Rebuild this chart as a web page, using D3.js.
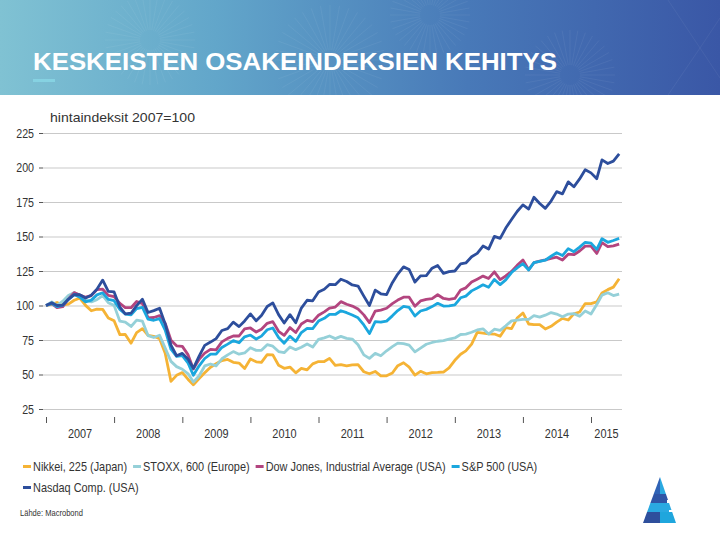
<!DOCTYPE html>
<html>
<head>
<meta charset="utf-8">
<script src="https://cdn.jsdelivr.net/npm/d3@7"></script>
<style>
  body { margin: 0; background: #fff; }
  svg { display: block; }
</style>
</head>
<body>
<script>
// ---------------- DATA (index, 2007 = 100, month-end values) ----------------
const seriesNames = ["Nikkei, 225 (Japan)", "STOXX, 600 (Europe)", "Dow Jones, Industrial Average (USA)", "S&P 500 (USA)", "Nasdaq Comp. (USA)"];
const yTicks = [25, 50, 75, 100, 125, 150, 175, 200, 225];
const yearLabels = ["2007", "2008", "2009", "2010", "2011", "2012", "2013", "2014", "2015"];

const nikkei = [100,
  100.9,102.2,100.4,101.0,103.8,105.3,100.1,96.2,97.4,97.2,91.0,88.9,
  78.9,79.0,72.7,80.4,83.2,78.3,77.7,75.9,65.4,45.0,49.4,51.4,
  46.4,42.5,47.1,51.2,55.3,57.8,60.1,60.9,58.8,58.3,54.3,61.2,
  59.2,58.8,64.4,64.2,56.7,54.5,55.4,51.2,54.4,53.4,57.7,59.4,
  59.4,61.7,56.6,57.2,56.3,57.0,57.1,52.0,50.5,52.2,49.0,49.1,
  51.1,56.4,58.5,55.3,49.6,52.3,50.5,51.3,51.5,51.8,54.8,60.3,
  64.7,67.1,72.0,80.5,80.0,79.4,79.3,77.7,83.9,83.2,90.9,94.6,
  86.6,86.2,86.1,83.0,84.9,88.0,90.7,89.5,93.9,95.3,101.4,101.3,
  102.6,109.1,111.5,113.3,119.4];

const stoxx = [100,
  102.6,100.1,103.1,107.2,109.4,107.2,104.0,102.6,104.2,107.2,102.0,100.1,
  88.6,88.0,84.8,89.4,88.6,78.2,76.8,78.4,69.1,59.5,55.7,53.8,
  50.5,44.5,49.1,56.2,57.6,56.2,61.4,64.2,66.6,64.7,65.6,69.4,
  67.5,67.5,71.6,70.5,66.6,65.8,69.9,68.0,69.7,72.1,69.9,75.4,
  76.5,77.9,76.0,77.6,76.2,75.7,71.6,64.2,61.7,65.3,63.6,67.2,
  70.2,72.7,72.4,71.3,66.4,69.1,71.9,73.2,74.1,74.6,75.7,76.5,
  79.0,79.3,80.6,82.3,83.1,79.3,82.8,82.0,85.3,88.9,89.4,90.0,
  90.0,92.7,91.6,93.0,94.9,93.8,91.9,93.8,94.1,92.2,96.0,93.8,
  100.7,107.5,109.2,107.2,108.3];

const dow = [100,
  101.3,98.4,99.1,104.8,109.3,107.6,106.0,107.2,111.5,111.8,107.3,106.4,
  101.5,98.4,98.4,102.9,101.4,91.1,91.3,92.6,87.1,74.8,70.8,70.4,
  64.2,54.0,61.1,65.5,68.2,67.8,73.6,76.2,77.9,77.9,83.0,83.7,
  80.8,82.8,87.1,88.3,81.3,78.4,84.0,80.4,86.6,89.2,88.3,92.9,
  95.4,98.1,98.9,102.8,100.9,99.6,97.4,93.2,87.6,95.9,96.7,98.0,
  101.4,103.9,106.0,106.0,99.4,103.3,104.4,105.0,107.8,105.1,104.5,105.1,
  111.2,112.8,117.0,119.1,121.3,119.6,124.4,118.8,121.4,124.7,129.1,133.0,
  126.0,131.0,132.1,133.0,134.1,135.0,132.9,137.2,136.8,139.5,143.0,143.0,
  137.7,145.5,142.6,143.2,144.5];

const sp500 = [100,
  101.4,99.2,100.2,104.5,107.9,106.0,102.6,103.9,107.7,109.2,104.4,103.5,
  97.2,93.8,93.3,97.7,98.7,90.2,89.3,90.5,82.2,68.3,63.2,63.7,
  58.2,49.5,56.3,61.6,64.8,64.8,69.6,72.0,74.5,73.0,77.3,78.6,
  75.7,77.8,82.4,83.7,76.8,72.7,77.7,74.0,80.4,83.4,83.3,88.7,
  90.7,93.6,93.5,96.2,94.8,93.1,91.1,85.9,79.7,88.3,87.9,88.7,
  92.5,96.3,99.3,98.6,92.4,96.0,97.2,99.2,101.6,99.6,99.8,100.5,
  105.6,106.8,110.6,112.7,115.0,113.2,118.9,115.1,118.6,123.9,127.3,130.3,
  125.7,131.1,132.0,132.8,135.7,138.2,136.2,141.2,139.0,142.3,145.8,145.2,
  140.7,148.4,145.8,147.1,148.6];

const nasdaq = [100,
  102.0,100.0,100.3,104.5,107.9,107.8,105.4,107.5,111.8,118.4,110.2,109.8,
  98.9,94.0,94.4,99.9,104.5,94.9,96.3,98.0,86.6,71.3,63.6,65.3,
  61.1,54.5,63.3,71.1,73.5,76.0,81.9,83.2,87.9,84.7,88.8,93.9,
  88.9,92.7,99.3,101.9,93.4,87.3,93.4,87.5,98.1,103.8,103.4,109.8,
  111.8,115.2,115.1,119.0,117.4,114.9,114.1,106.8,100.0,111.1,108.5,107.9,
  116.5,122.8,128.0,126.1,117.0,121.5,121.7,127.0,129.0,123.3,124.6,125.0,
  130.1,130.8,135.3,137.8,143.1,140.9,150.1,148.6,156.1,162.3,168.1,172.9,
  169.9,178.4,173.9,170.4,175.7,182.5,180.9,189.6,186.0,191.7,198.4,196.1,
  191.9,205.5,202.9,204.6,209.9];

// one date per value: start of each month, Jan 2007 .. Jun 2015
const months = d3.timeMonth.range(new Date(2007, 0, 1), new Date(2015, 6, 1));

const colors = ["#f5b335", "#95d0d8", "#b3457f", "#1ba7de", "#2d4e9c"];
const allSeries = [nikkei, stoxx, dow, sp500, nasdaq];

// ---------------- DRAWING ----------------
const W = 720, H = 540;
const FONT = "'Liberation Sans',Arial,sans-serif";
const svg = d3.select("body").append("svg").attr("width", W).attr("height", H)
  .style("font-family", FONT);

// text squeezed horizontally (narrow typeface look) via a scaled group
function narrowText(parent, tx, ty, str, size, f, anchor) {
  const g = parent.append("g").attr("transform", `translate(${tx},${ty}) scale(${f},1)`);
  const t = g.append("text").attr("x", 0).attr("y", 0)
    .attr("font-size", size).attr("fill", "#333")
    .attr("text-anchor", anchor || "start").text(str);
  return t.node().getComputedTextLength() * f;
}

// header banner
const defs = svg.append("defs");
const grad = defs.append("linearGradient").attr("id", "band").attr("x1", "0").attr("x2", "1").attr("y1", "0").attr("y2", "0");
[["0%", "#80c2d3"], ["30%", "#62a6ca"], ["65%", "#4879b8"], ["100%", "#3a57a6"]]
  .forEach(([o, c]) => grad.append("stop").attr("offset", o).attr("stop-color", c));
svg.append("rect").attr("x", 0).attr("y", 0).attr("width", W).attr("height", 95).attr("fill", "url(#band)");

// faint decorative pattern in banner
const deco = svg.append("g").attr("stroke", "#ffffff").attr("stroke-opacity", 0.07).attr("fill", "none").attr("stroke-width", 0.8);
[[150, 40, 45], [330, 60, 55], [430, 15, 40], [570, 75, 45]].forEach(([cx, cy, r]) => {
  for (let a = 0; a < 360; a += 10) {
    const rad = a * Math.PI / 180;
    deco.append("line")
      .attr("x1", cx + 10 * Math.cos(rad)).attr("y1", cy + 10 * Math.sin(rad))
      .attr("x2", cx + r * Math.cos(rad)).attr("y2", cy + r * Math.sin(rad));
  }
});
deco.append("path").attr("d", "M668,0 L700,48 L668,95 M700,48 L720,18 M700,48 L720,78");

svg.append("text").attr("x", 33).attr("y", 70)
  .attr("fill", "#ffffff")
  .attr("font-weight", "bold").attr("font-size", 23)
  .attr("textLength", 524).attr("lengthAdjust", "spacingAndGlyphs")
  .text("KESKEISTEN OSAKEINDEKSIEN KEHITYS");
svg.append("rect").attr("x", 33).attr("y", 79).attr("width", 22).attr("height", 3).attr("fill", "#86d2e2");

svg.append("text").attr("x", 50).attr("y", 122).attr("font-size", 13.5).attr("fill", "#333")
  .attr("textLength", 145).attr("lengthAdjust", "spacingAndGlyphs")
  .text("hintaindeksit 2007=100");

// scales
const plotL = 43, plotR = 622;
const x = d3.scaleTime().domain([new Date(2007, 0, 1), new Date(2015, 0, 1)]).range([46, 591]);
const y = d3.scaleLinear().domain([25, 225]).range([409, 133]);

// gridlines
const grid = svg.append("g").attr("transform", `translate(${plotL},0)`)
  .call(d3.axisLeft(y).tickValues(yTicks).tickSize(-(plotR - plotL)).tickFormat(""));
grid.select(".domain").remove();
grid.selectAll("line").attr("stroke", "#c9c9c9").attr("stroke-width", 1);

// y axis tick marks
const yAx = svg.append("g").attr("transform", `translate(${plotL},0)`)
  .call(d3.axisLeft(y).tickValues(yTicks).tickSize(4).tickFormat(""));
yAx.select(".domain").remove();
yAx.selectAll("line").attr("stroke", "#555");
// y labels
const yLab = svg.append("g");
yTicks.forEach(v => narrowText(yLab, 34, y(v) + 4.5, String(v), 13, 0.82, "end"));

// x axis ticks
const yearStarts = yearLabels.map(s => new Date(+s, 0, 1));
const xAx = svg.append("g").attr("transform", "translate(0,417)")
  .call(d3.axisBottom(x).tickValues(yearStarts).tickSize(6).tickFormat(""));
xAx.select(".domain").remove();
xAx.selectAll("line").attr("stroke", "#555");

// year labels centred in each year span
const xLab = svg.append("g");
yearLabels.forEach(s => {
  const a = x(new Date(+s, 0, 1));
  const b = Math.min(x(new Date(+s + 1, 0, 1)), plotR);
  narrowText(xLab, (a + b) / 2, 438, s, 13, 0.84, "middle");
});

// lines
const line = d3.line().x((d, i) => x(months[i])).y(d => y(d)).curve(d3.curveLinear);
svg.append("g").selectAll("path").data(allSeries).join("path")
  .attr("d", line)
  .attr("fill", "none")
  .attr("stroke", (d, i) => colors[i])
  .attr("stroke-width", 2.8)
  .attr("stroke-linejoin", "round");

// legend
const legend = svg.append("g");
const rows = [[0, 1, 2, 3], [4]];
const rowY = [471, 492];
rows.forEach((row, r) => {
  let cx = 23;
  row.forEach(i => {
    legend.append("line").attr("x1", cx).attr("x2", cx + 8)
      .attr("y1", rowY[r] - 4.5).attr("y2", rowY[r] - 4.5)
      .attr("stroke", colors[i]).attr("stroke-width", 3);
    const w = narrowText(legend, cx + 10, rowY[r], seriesNames[i], 13, 0.84, "start");
    cx += 10 + w + 6;
  });
});

narrowText(svg, 20, 516, "Lähde: Macrobond", 9, 0.84, "start");

// logo (bottom right)
const logo = svg.append("g");
defs.append("clipPath").attr("id", "tri").append("path")
  .attr("d", "M660,477 L676,523 L643,523 Z");
const lg = logo.append("g").attr("clip-path", "url(#tri)");
lg.append("rect").attr("x", 640).attr("y", 476).attr("width", 20).attr("height", 18).attr("fill", "#2f63b6");
lg.append("rect").attr("x", 660).attr("y", 476).attr("width", 20).attr("height", 18).attr("fill", "#2aa9e1");
lg.append("rect").attr("x", 640).attr("y", 494).attr("width", 40).attr("height", 9).attr("fill", "#2f55a6");
lg.append("rect").attr("x", 640).attr("y", 503).attr("width", 40).attr("height", 9).attr("fill", "#2aa9e1");
lg.append("rect").attr("x", 640).attr("y", 512).attr("width", 20).attr("height", 12).attr("fill", "#2e4f9c");
lg.append("rect").attr("x", 660).attr("y", 512).attr("width", 20).attr("height", 12).attr("fill", "#1fa6dd");
logo.append("rect").attr("x", 667).attr("y", 500).attr("width", 12).attr("height", 3).attr("fill", "#fff");
logo.append("rect").attr("x", 669).attr("y", 510).attr("width", 10).attr("height", 2).attr("fill", "#fff");
</script>
</body>
</html>
